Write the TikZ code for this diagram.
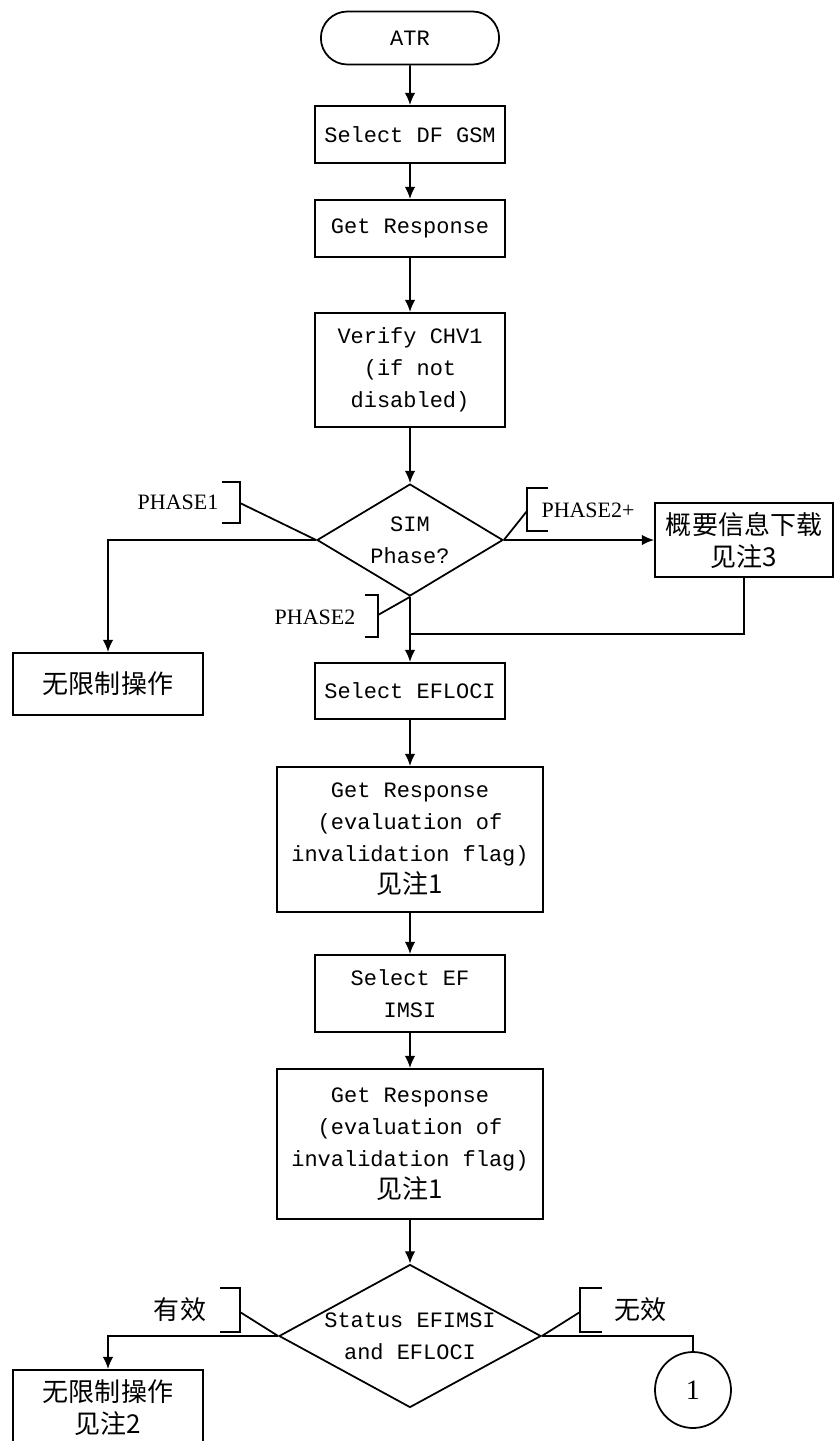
\documentclass[tikz,border=0pt]{standalone}
\usepackage{fontspec}
\setmainfont{Liberation Serif}
\setmonofont{Liberation Mono}
\newfontfamily\cjk{Noto Sans CJK SC}
\usetikzlibrary{arrows.meta,shapes.geometric,shapes.misc}
\newcommand{\zh}[1]{{\cjk\fontsize{14.8}{18.2}\selectfont #1}}

\begin{document}
\begin{tikzpicture}[
  x=0.02cm, y=-0.02cm,
  line width=1pt,
  font=\ttfamily\fontsize{12.5}{18.2}\selectfont,
  term/.style={draw, rounded rectangle, minimum width=3.8cm, minimum height=1.06cm},
  box/.style={draw, rectangle, minimum width=3.8cm, minimum height=1.14cm, align=center, inner sep=2pt},
  wide/.style={box, minimum width=5.32cm},
  decision/.style={draw, diamond, inner sep=0pt},
  tag/.style={font=\rmfamily\fontsize{12.5}{15}\selectfont, inner sep=1pt},
  flow/.style={-{Latex[length=7pt,width=6pt]}}
]
\useasboundingbox (0,0) rectangle (834,1441);

% main column
\node[term] (atr) at (410,38) {ATR};
\node[box] (dfgsm) at (410,134.5) {Select DF GSM};
\node[box] (getresp) at (410,228.5) {Get Response};
\node[box, minimum height=2.28cm] (chv) at (410,370) {Verify CHV1\\(if not\\disabled)};
\node[decision, minimum width=3.72cm, minimum height=2.24cm] (simph) at (410,540) {};
\node[align=center] (simtxt) at (simph) {SIM\\Phase?};
\node[box, minimum height=1.12cm] (efloci) at (410,691) {Select EFLOCI};
\node[wide, minimum height=2.9cm] (getresp1) at (410,839.5) {Get Response\\(evaluation of\\invalidation flag)\\\zh{见注1}};
\node[box, minimum height=1.54cm] (efimsi) at (410,993.5) {Select EF\\IMSI};
\node[wide, minimum height=3.0cm] (getresp2) at (410,1144) {Get Response\\(evaluation of\\invalidation flag)\\\zh{见注1}};
\node[decision, minimum width=5.24cm, minimum height=2.86cm] (status) at (410,1336) {};
\node[align=center] (stattxt) at (status) {Status EFIMSI\\and EFLOCI};

% side branches
\node[box, minimum height=1.24cm] (nolim1) at (108,684) {\zh{无限制操作}};
\node[box, minimum width=3.56cm, minimum height=1.48cm] (info) at (744,540) {\zh{概要信息下载}\\\zh{见注3}};
\node[box, minimum height=1.52cm] (nolim2) at (108,1408) {\zh{无限制操作}\\\zh{见注2}};
\node[draw, circle, minimum size=1.52cm, inner sep=0pt, font=\rmfamily\fontsize{16}{18}\selectfont] (conn) at (693,1390) {1};
\coordinate (join) at (410,634);

% annotations
\node[tag] (ph1) at (178,502) {PHASE1};
\draw (222,482) -- (240,482) -- (240,523) -- (222,523);
\coordinate (ph1b) at (240,503);
\node[tag] (ph2p) at (588,510) {PHASE2+};
\draw (548,488) -- (527,488) -- (527,531) -- (548,531);
\coordinate (ph2pb) at (527,511);
\node[tag] (ph2) at (315,617) {PHASE2};
\draw (365,595) -- (378,595) -- (378,637) -- (365,637);
\coordinate (ph2b) at (378,615);
\node[tag] (valid) at (180,1310) {\zh{有效}};
\draw (220,1288) -- (240,1288) -- (240,1332) -- (220,1332);
\coordinate (validb) at (240,1312);
\node[tag] (invalid) at (640,1310) {\zh{无效}};
\draw (602,1288) -- (580,1288) -- (580,1332) -- (602,1332);
\coordinate (invalidb) at (580,1312);

% connectors
\draw[flow] (atr) -- (dfgsm);
\draw[flow] (dfgsm) -- (getresp);
\draw[flow] (getresp) -- (chv);
\draw[flow] (chv) -- (simph);
\draw[flow] (simph.west) -| (nolim1.north);
\draw[flow] (simph.east) -- (info.west);
\draw[flow] (simph.south) -- (efloci.north);
\draw (info.south) |- (join);
\draw (ph1b) -- (simph.west);
\draw (ph2pb) -- (simph.east);
\draw (ph2b) -- (simph.south);
\draw[flow] (efloci) -- (getresp1);
\draw[flow] (getresp1) -- (efimsi);
\draw[flow] (efimsi) -- (getresp2);
\draw[flow] (getresp2) -- (status);
\draw[flow] (status.west) -| (nolim2.north);
\draw (status.east) -| (conn.north);
\draw (validb) -- (status.west);
\draw (invalidb) -- (status.east);
\end{tikzpicture}
\end{document}
